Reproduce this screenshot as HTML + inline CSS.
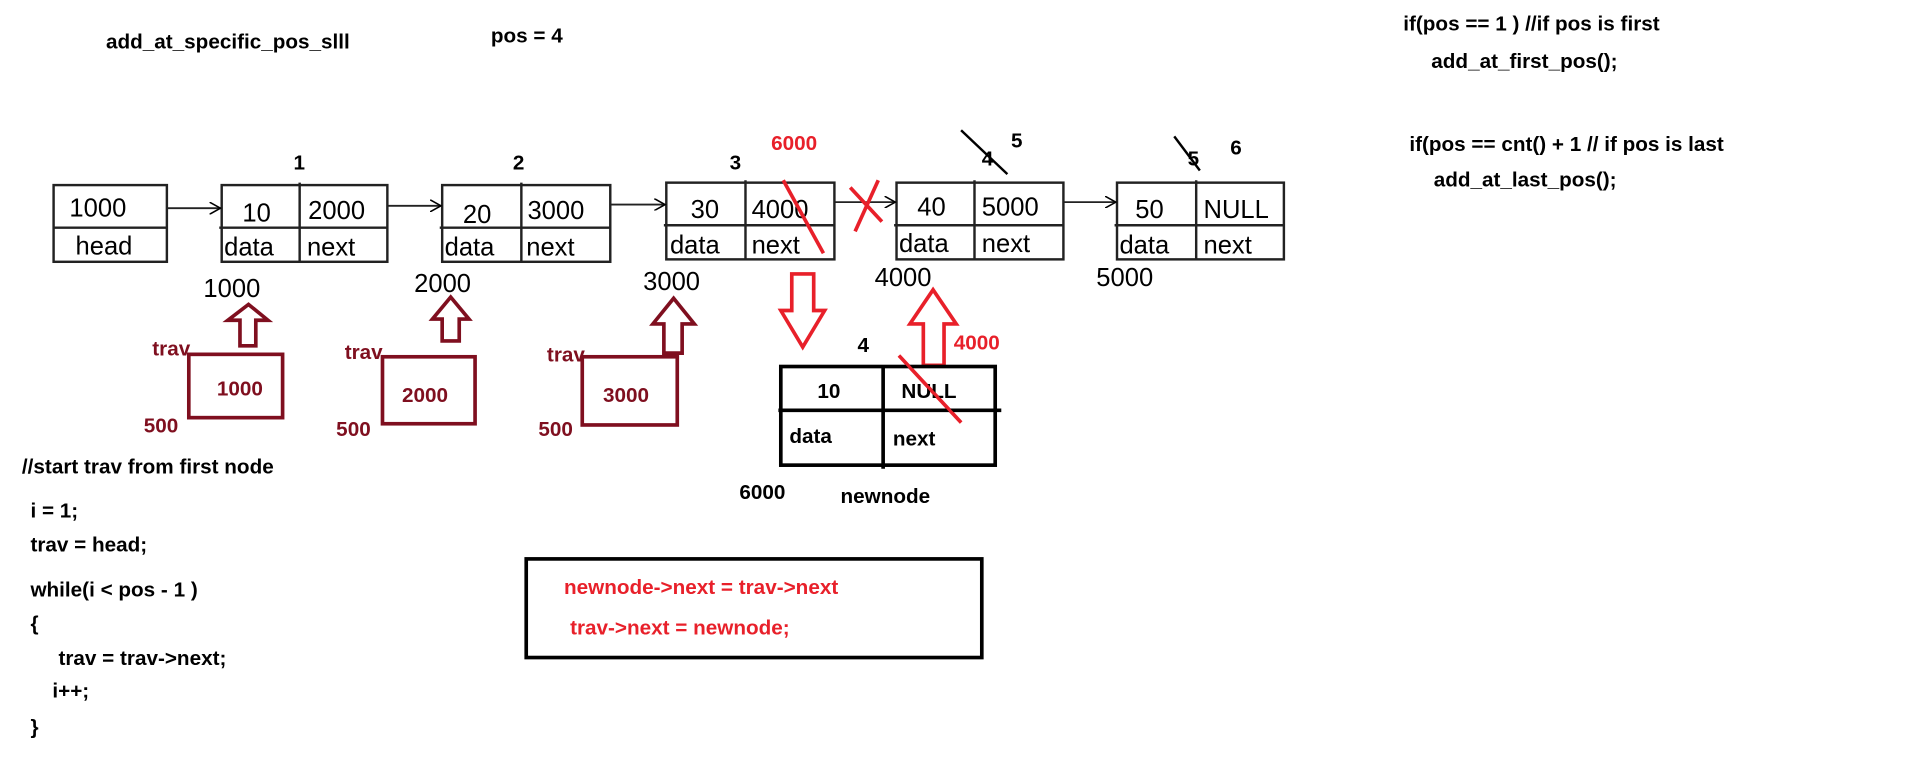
<!DOCTYPE html>
<html><head><meta charset="utf-8"><style>
html,body{margin:0;padding:0;background:#fff;width:1910px;height:772px;overflow:hidden}
svg{display:block}
.b{font-family:"Liberation Sans",sans-serif;font-weight:bold;font-size:17px;fill:#000}
.n{font-family:"Liberation Sans",sans-serif;font-size:21px;fill:#000}
.dr{font-family:"Liberation Sans",sans-serif;font-weight:bold;font-size:17px;fill:#7f0f1f}
.r{font-family:"Liberation Sans",sans-serif;font-weight:bold;font-size:17px;fill:#e8202a}
</style></head><body>
<svg width="1910" height="772" viewBox="0 0 1568 634" preserveAspectRatio="none" xmlns="http://www.w3.org/2000/svg">
<defs><marker id="ah" markerWidth="10" markerHeight="10" refX="9" refY="5" orient="auto" markerUnits="userSpaceOnUse"><path d="M0,0 L9,5 L0,10" fill="none" stroke="#000" stroke-width="1.3"/></marker></defs>
<text class="b" x="87" y="40">add_at_specific_pos_slll</text>
<text class="b" x="403" y="35">pos = 4</text>
<text class="b" x="1152" y="25">if(pos == 1 ) //if pos is first</text>
<text class="b" x="1175" y="56">add_at_first_pos();</text>
<text class="b" x="1157" y="124">if(pos == cnt() + 1 // if pos is last</text>
<text class="b" x="1177" y="153">add_at_last_pos();</text>
<g fill="none" stroke="#222" stroke-width="2">
<rect x="44" y="152" width="93" height="63"/><line x1="44" y1="187" x2="137" y2="187"/>
<rect x="182" y="152" width="136" height="63"/><line x1="180" y1="187" x2="318" y2="187"/><line x1="246" y1="150" x2="246" y2="215"/>
<rect x="363" y="152" width="138" height="63"/><line x1="361" y1="187" x2="501" y2="187"/><line x1="428" y1="150" x2="428" y2="215"/>
<rect x="547" y="150" width="138" height="63"/><line x1="545" y1="185" x2="685" y2="185"/><line x1="612" y1="148" x2="612" y2="213"/>
<rect x="736" y="150" width="137" height="63"/><line x1="734" y1="185" x2="873" y2="185"/><line x1="800" y1="148" x2="800" y2="213"/>
<rect x="917" y="150" width="137" height="63"/><line x1="915" y1="185" x2="1054" y2="185"/><line x1="982" y1="148" x2="982" y2="213"/>
</g>
<g stroke="#222" stroke-width="1.5" marker-end="url(#ah)">
<line x1="137" y1="171" x2="181" y2="171"/><line x1="318" y1="169" x2="362" y2="169"/><line x1="501" y1="168" x2="546" y2="168"/><line x1="685" y1="166" x2="735" y2="166"/><line x1="873" y1="166" x2="916" y2="166"/>
</g>
<g class="n">
<text x="57" y="178">1000</text><text x="62" y="209">head</text>
<text x="199" y="182">10</text><text x="253" y="180">2000</text><text x="184" y="210">data</text><text x="252" y="210">next</text>
<text x="380" y="183">20</text><text x="433" y="180">3000</text><text x="365" y="210">data</text><text x="432" y="210">next</text>
<text x="567" y="179">30</text><text x="617" y="179">4000</text><text x="550" y="208">data</text><text x="617" y="208">next</text>
<text x="753" y="177">40</text><text x="806" y="177">5000</text><text x="738" y="207">data</text><text x="806" y="207">next</text>
<text x="932" y="179">50</text><text x="988" y="179">NULL</text><text x="919" y="208">data</text><text x="988" y="208">next</text>
<text x="167" y="244">1000</text><text x="340" y="240">2000</text><text x="528" y="238">3000</text><text x="718" y="235">4000</text><text x="900" y="235">5000</text>
</g>
<g class="b"><text x="241" y="139">1</text><text x="421" y="139">2</text><text x="599" y="139">3</text><text x="806" y="136">4</text><text x="830" y="121">5</text><text x="975" y="136">5</text><text x="1010" y="127">6</text></g>
<text class="r" x="633" y="123">6000</text>
<g stroke="#000" stroke-width="2"><line x1="789" y1="107" x2="827" y2="143"/><line x1="964" y1="112" x2="985" y2="140"/></g>
<g stroke="#e8202a" stroke-width="3" fill="none">
<line x1="643" y1="148" x2="676" y2="208"/>
<line x1="721" y1="148" x2="702" y2="190"/><line x1="698" y1="154" x2="724" y2="182"/>
<path d="M650,225 L668,225 L668,255 L677,255 L659,285 L641,255 L650,255 Z"/>
<path d="M758,300 L775,300 L775,266 L785,266 L766,238 L747,266 L758,266 Z"/>
<line x1="738" y1="292" x2="789" y2="347"/>
</g>
<text class="r" x="783" y="287">4000</text>
<g stroke="#7f0f1f" stroke-width="3" fill="none">
<path d="M197,284 L210,284 L210,263 L220,263 L204,250 L187,263 L197,263 Z"/>
<path d="M363,280 L377,280 L377,262 L385,262 L370,244 L355,262 L363,262 Z"/>
<path d="M545,290 L560,290 L560,266 L570,266 L553,245 L536,266 L545,266 Z"/>
<rect x="155" y="291" width="77" height="52"/>
<rect x="314" y="293" width="76" height="55"/>
<rect x="478" y="293" width="78" height="56"/>
</g>
<g class="dr"><text x="178" y="325">1000</text><text x="330" y="330">2000</text><text x="495" y="330">3000</text>
<text x="125" y="292">trav</text><text x="283" y="295">trav</text><text x="449" y="297">trav</text>
<text x="118" y="355">500</text><text x="276" y="358">500</text><text x="442" y="358">500</text></g>
<g stroke="#000" stroke-width="3" fill="none"><rect x="641" y="301" width="176" height="81"/><line x1="639" y1="337" x2="822" y2="337"/><line x1="725" y1="301" x2="725" y2="385"/><rect x="432" y="459" width="374" height="81"/></g>
<g class="b"><text x="671" y="327">10</text><text x="740" y="327">NULL</text><text x="648" y="364">data</text><text x="733" y="366">next</text><text x="704" y="289">4</text><text x="607" y="410">6000</text><text x="690" y="413">newnode</text></g>
<line x1="738" y1="292" x2="789" y2="347" stroke="#e8202a" stroke-width="2.5"/>
<g class="b"><text x="18" y="389">//start trav from first node</text><text x="25" y="425">i = 1;</text><text x="25" y="453">trav = head;</text><text x="25" y="490">while(i &lt; pos - 1 )</text><text x="25" y="518">{</text><text x="48" y="546">trav = trav-&gt;next;</text><text x="43" y="573">i++;</text><text x="25" y="603">}</text></g>
<text class="r" x="463" y="488">newnode-&gt;next = trav-&gt;next</text>
<text class="r" x="468" y="521">trav-&gt;next = newnode;</text>
</svg>
</body></html>
